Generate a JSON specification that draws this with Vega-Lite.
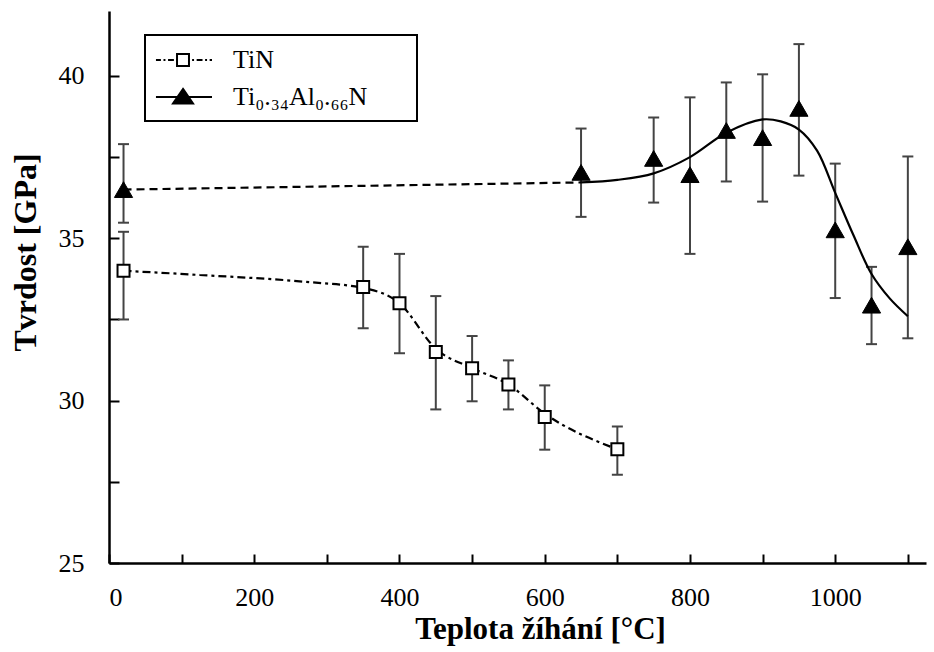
{
  "$schema": "https://vega.github.io/schema/vega-lite/v6.json",
  "width": 817,
  "height": 552,
  "autosize": {"type": "none"},
  "padding": {"left": 109, "top": 11, "right": 8, "bottom": 89},
  "background": "white",
  "config": {"view": {"stroke": null}, "font": "Liberation Serif"},
  "datasets": {
    "pts": [
      {"series": "TiN", "T": 20, "H": 34.0, "lo": 32.5, "hi": 35.2},
      {"series": "TiN", "T": 350, "H": 33.5, "lo": 32.23, "hi": 34.74},
      {"series": "TiN", "T": 400, "H": 33.0, "lo": 31.46, "hi": 34.52},
      {"series": "TiN", "T": 450, "H": 31.5, "lo": 29.73, "hi": 33.22},
      {"series": "TiN", "T": 500, "H": 31.0, "lo": 29.98, "hi": 31.99},
      {"series": "TiN", "T": 550, "H": 30.5, "lo": 29.73, "hi": 31.24},
      {"series": "TiN", "T": 600, "H": 29.5, "lo": 28.49, "hi": 30.47},
      {"series": "TiN", "T": 700, "H": 28.5, "lo": 27.72, "hi": 29.2},
      {"series": "TiAlN", "T": 20, "H": 36.5, "lo": 35.48, "hi": 37.9},
      {"series": "TiAlN", "T": 650, "H": 37.03, "lo": 35.66, "hi": 38.38},
      {"series": "TiAlN", "T": 750, "H": 37.46, "lo": 36.1, "hi": 38.72},
      {"series": "TiAlN", "T": 800, "H": 36.96, "lo": 34.52, "hi": 39.34},
      {"series": "TiAlN", "T": 850, "H": 38.32, "lo": 36.75, "hi": 39.8},
      {"series": "TiAlN", "T": 900, "H": 38.1, "lo": 36.13, "hi": 40.05},
      {"series": "TiAlN", "T": 950, "H": 39.0, "lo": 36.93, "hi": 40.98},
      {"series": "TiAlN", "T": 1000, "H": 35.26, "lo": 33.16, "hi": 37.3},
      {"series": "TiAlN", "T": 1050, "H": 32.94, "lo": 31.74, "hi": 34.12},
      {"series": "TiAlN", "T": 1100, "H": 34.74, "lo": 31.92, "hi": 37.52}
    ],
    "tinCurve": [
      {"T": 20, "H": 34.0},
      {"T": 125, "H": 33.87},
      {"T": 270, "H": 33.66},
      {"T": 350, "H": 33.47},
      {"T": 400, "H": 33.0},
      {"T": 450, "H": 31.6},
      {"T": 500, "H": 31.0},
      {"T": 550, "H": 30.5},
      {"T": 600, "H": 29.6},
      {"T": 700, "H": 28.5}
    ],
    "alnDash": [
      {"T": 20, "H": 36.5},
      {"T": 650, "H": 36.72}
    ],
    "alnCurve": [
      {"T": 650, "H": 36.72},
      {"T": 700, "H": 36.8},
      {"T": 750, "H": 37.0},
      {"T": 800, "H": 37.5},
      {"T": 850, "H": 38.25},
      {"T": 900, "H": 38.66},
      {"T": 925, "H": 38.6},
      {"T": 950, "H": 38.35},
      {"T": 975, "H": 37.7},
      {"T": 1000, "H": 36.4},
      {"T": 1025, "H": 35.1},
      {"T": 1050, "H": 33.9},
      {"T": 1075, "H": 33.15},
      {"T": 1100, "H": 32.6}
    ]
  },
  "layer": [
    {
      "data": {"name": "pts"},
      "mark": {"type": "point", "filled": true, "opacity": 0, "stroke": "black", "strokeWidth": 2},
      "encoding": {
        "x": {
          "field": "T", "type": "quantitative",
          "scale": {"domain": [0, 1125], "nice": false, "zero": false},
          "axis": {
            "title": "Teplota žíhání [°C]",
            "titleFont": "Liberation Serif", "titleFontSize": 31, "titleFontWeight": "bold", "titleColor": "black",
            "titleX": 431, "titleY": 75, "titleAlign": "center", "titleBaseline": "alphabetic",
            "values": [0, 100, 200, 300, 400, 500, 600, 700, 800, 900, 1000, 1100],
            "format": "d",
            "labelExpr": "datum.value % 200 === 0 ? datum.label : ''",
            "labelFont": "Liberation Serif", "labelFontSize": 26, "labelColor": "black",
            "labelFlush": true, "labelOverlap": false,
            "labelPadding": 30,
            "tickSize": -9,
            "tickColor": "black", "tickWidth": 2,
            "domainColor": "black", "domainWidth": 2.5,
            "grid": false
          }
        },
        "y": {
          "field": "H", "type": "quantitative",
          "scale": {"domain": [25, 42], "nice": false, "zero": false},
          "axis": {
            "title": "Tvrdost [GPa]",
            "titleFont": "Liberation Serif", "titleFontSize": 32, "titleFontWeight": "bold", "titleColor": "black",
            "titleAngle": -90, "titleX": -74, "titleY": 241, "titleAlign": "center", "titleBaseline": "alphabetic",
            "values": [25, 27.5, 30, 32.5, 35, 37.5, 40],
            "labelExpr": "datum.value % 5 === 0 ? datum.label : ''",
            "labelFont": "Liberation Serif", "labelFontSize": 26, "labelColor": "black",
            "labelOverlap": false,
            "labelPadding": 35,
            "tickSize": -10,
            "tickColor": "black", "tickWidth": 2,
            "domainColor": "black", "domainWidth": 2.5,
            "grid": false
          }
        },
        "shape": {
          "field": "series", "type": "nominal",
          "scale": {
            "domain": ["TiN", "TiAlN"],
            "range": [
              "M-1.08,0H-0.7M-0.5,0H-0.35M-0.15,0H0.3M0.54,-0.46H1.46V0.46H0.54ZM1.7,0H1.85M2.05,0H2.5M2.7,0H2.85M3.05,0H3.23",
              "M-1.08,0H3.23M1,-0.62L1.77,0.5L0.23,0.5Z"
            ]
          },
          "legend": {
            "orient": "none", "legendX": 36, "legendY": 24,
            "title": null, "padding": 11,
            "strokeColor": "black", "fillColor": "white",
            "labelFont": "Liberation Serif", "labelFontSize": 26, "labelColor": "black",
            "labelOffset": 49, "labelLimit": 500,
            "labelExpr": "datum.value === 'TiN' ? 'TiN' : 'Ti₀.₃₄Al₀.₆₆N\u2800\u2800'",
            "symbolSize": 676, "symbolStrokeWidth": 2, "symbolStrokeColor": "black",
            "rowPadding": 10,
            "encode": {"legend": {"update": {"strokeWidth": {"value": 2}}}}
          }
        },
        "fill": {
          "field": "series", "type": "nominal",
          "scale": {"domain": ["TiN", "TiAlN"], "range": ["white", "black"]},
          "legend": {
            "orient": "none", "legendX": 36, "legendY": 24,
            "title": null, "padding": 11,
            "strokeColor": "black", "fillColor": "white",
            "labelFont": "Liberation Serif", "labelFontSize": 26, "labelColor": "black",
            "labelOffset": 49, "labelLimit": 500,
            "labelExpr": "datum.value === 'TiN' ? 'TiN' : 'Ti₀.₃₄Al₀.₆₆N\u2800\u2800'",
            "symbolSize": 676, "symbolStrokeWidth": 2, "symbolStrokeColor": "black",
            "rowPadding": 10,
            "encode": {"legend": {"update": {"strokeWidth": {"value": 2}}}}
          }
        }
      }
    },
    {
      "data": {"name": "pts"},
      "mark": {"type": "rule", "color": "#444444", "strokeWidth": 2},
      "encoding": {
        "x": {"field": "T", "type": "quantitative"},
        "y": {"field": "lo", "type": "quantitative"},
        "y2": {"field": "hi"}
      }
    },
    {
      "data": {"name": "pts"},
      "mark": {"type": "tick", "orient": "horizontal", "size": 11, "thickness": 2, "color": "#444444", "opacity": 1},
      "encoding": {
        "x": {"field": "T", "type": "quantitative"},
        "y": {"field": "lo", "type": "quantitative"}
      }
    },
    {
      "data": {"name": "pts"},
      "mark": {"type": "tick", "orient": "horizontal", "size": 11, "thickness": 2, "color": "#444444", "opacity": 1},
      "encoding": {
        "x": {"field": "T", "type": "quantitative"},
        "y": {"field": "hi", "type": "quantitative"}
      }
    },
    {
      "data": {"name": "tinCurve"},
      "mark": {"type": "line", "interpolate": "monotone", "color": "black", "strokeWidth": 2.2, "strokeDash": [8, 4, 3, 4]},
      "encoding": {
        "x": {"field": "T", "type": "quantitative"},
        "y": {"field": "H", "type": "quantitative"}
      }
    },
    {
      "data": {"name": "alnDash"},
      "mark": {"type": "line", "color": "black", "strokeWidth": 2.2, "strokeDash": [8, 5]},
      "encoding": {
        "x": {"field": "T", "type": "quantitative"},
        "y": {"field": "H", "type": "quantitative"}
      }
    },
    {
      "data": {"name": "alnCurve"},
      "mark": {"type": "line", "interpolate": "catmull-rom", "color": "black", "strokeWidth": 2.2},
      "encoding": {
        "x": {"field": "T", "type": "quantitative"},
        "y": {"field": "H", "type": "quantitative"}
      }
    },
    {
      "data": {"name": "pts"},
      "transform": [{"filter": "datum.series === 'TiN'"}],
      "mark": {"type": "point", "shape": "square", "filled": true, "fill": "white", "stroke": "black", "strokeWidth": 2, "size": 144, "opacity": 1},
      "encoding": {
        "x": {"field": "T", "type": "quantitative"},
        "y": {"field": "H", "type": "quantitative"}
      }
    },
    {
      "data": {"name": "pts"},
      "transform": [{"filter": "datum.series === 'TiAlN'"}],
      "mark": {"type": "point", "shape": "triangle-up", "filled": true, "color": "black", "stroke": "black", "strokeWidth": 1, "size": 330, "opacity": 1},
      "encoding": {
        "x": {"field": "T", "type": "quantitative"},
        "y": {"field": "H", "type": "quantitative"}
      }
    }
  ]
}
